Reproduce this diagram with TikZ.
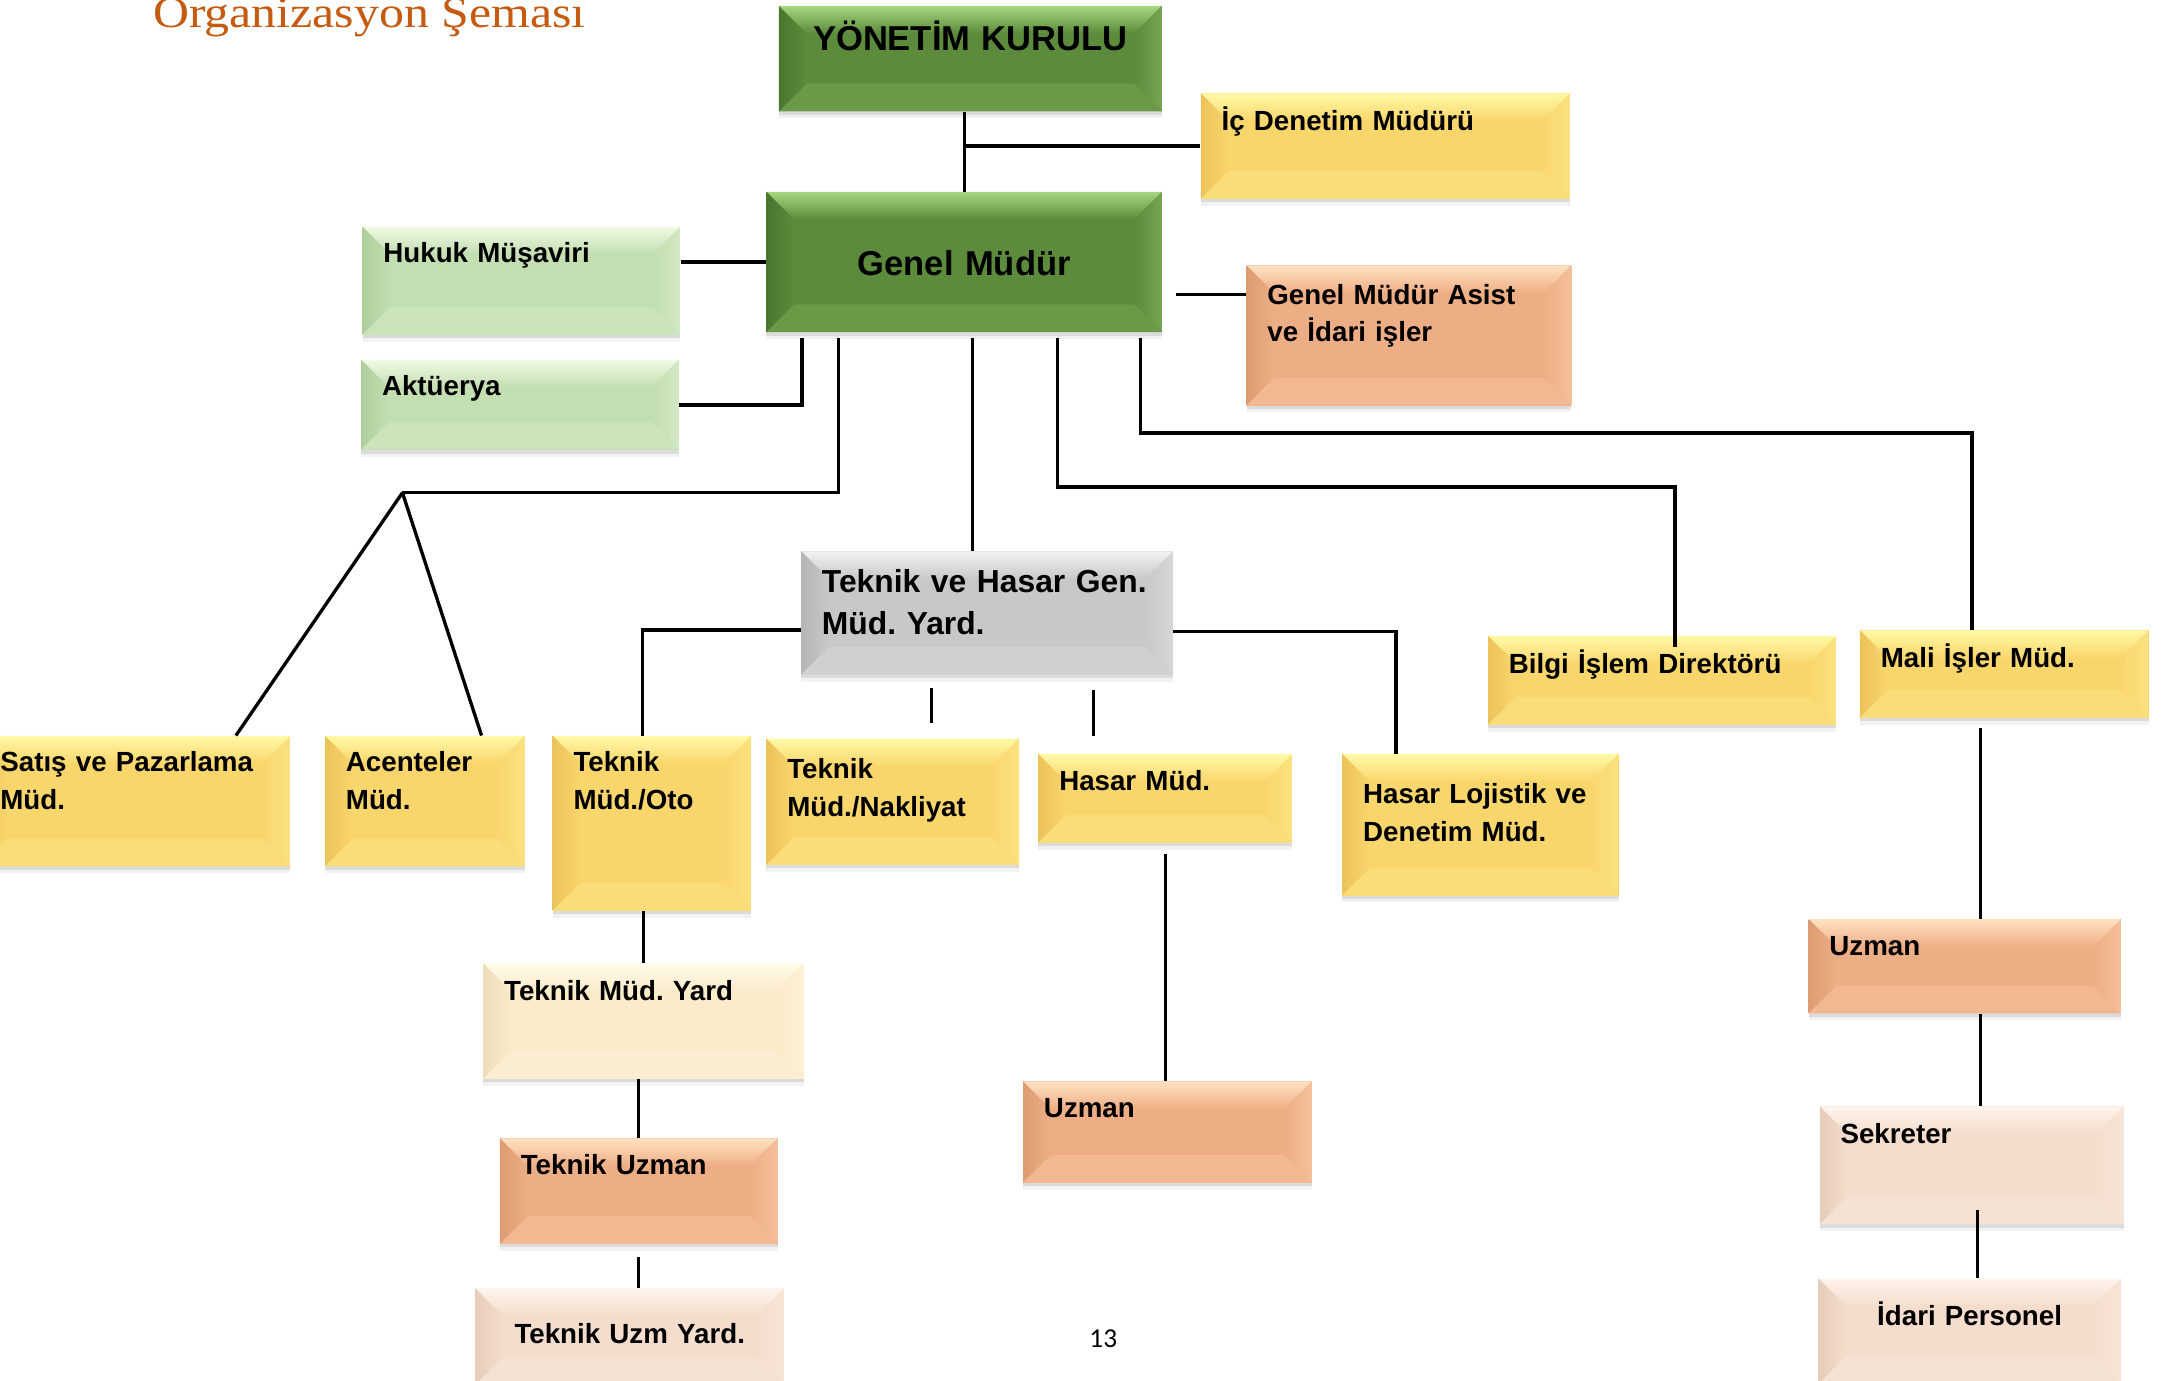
\documentclass[tikz,border=0pt]{standalone}
\usepackage{fontspec}
\setmainfont{Liberation Sans}
\newfontfamily\titlefont{Liberation Serif}
\newfontfamily\pagefont{Carlito}
\usetikzlibrary{shadows}
\frenchspacing

% box colours: base, highlight, shade
\definecolor{dkg}{HTML}{5B8B3B}
\definecolor{dkg-hi}{HTML}{A6D67E}
\definecolor{dkg-lo}{HTML}{4B7630}
\definecolor{ltg}{HTML}{C3DEB1}
\definecolor{ltg-hi}{HTML}{F0FBE6}
\definecolor{ltg-lo}{HTML}{B0CE9C}
\definecolor{yel}{HTML}{F9D66C}
\definecolor{yel-hi}{HTML}{FFF9A6}
\definecolor{yel-lo}{HTML}{EBC35A}
\definecolor{sal}{HTML}{EEAE85}
\definecolor{sal-hi}{HTML}{FFE2C2}
\definecolor{sal-lo}{HTML}{DD9C72}
\definecolor{gry}{HTML}{C8C8C8}
\definecolor{gry-hi}{HTML}{F2F2F2}
\definecolor{gry-lo}{HTML}{B5B5B5}
\definecolor{crm}{HTML}{FAEBC9}
\definecolor{crm-hi}{HTML}{FFFCEB}
\definecolor{crm-lo}{HTML}{EDDDBA}
\definecolor{pnk}{HTML}{F4DDCD}
\definecolor{pnk-hi}{HTML}{FFF4EC}
\definecolor{pnk-lo}{HTML}{E6CCBA}
\definecolor{titleorange}{HTML}{C55A11}

\tikzset{
  bevel/.style={fill=#1,
    drop shadow={shadow xshift=0pt, shadow yshift=-3.5pt, opacity=.1},
    drop shadow={shadow xshift=0pt, shadow yshift=-1.8pt, opacity=.2},
    path picture={
      \path (path picture bounding box.north west) coordinate (pa)
            (path picture bounding box.north east) coordinate (pb)
            (path picture bounding box.south east) coordinate (pc)
            (path picture bounding box.south west) coordinate (pd);
      \shade[top color=#1-hi, bottom color=#1] (pa) -- (pb) -- ([shift={(-.5cm,-.5cm)}]pb) -- ([shift={(.5cm,-.5cm)}]pa) -- cycle;
      \shade[left color=#1-lo, right color=#1] (pa) -- ([shift={(.5cm,-.5cm)}]pa) -- ([shift={(.5cm,.5cm)}]pd) -- (pd) -- cycle;
      \shade[right color=#1-hi!35!#1, left color=#1] (pb) -- ([shift={(-.5cm,-.5cm)}]pb) -- ([shift={(-.5cm,.5cm)}]pc) -- (pc) -- cycle;
      \fill[#1-hi!20!#1] (pd) -- ([shift={(.5cm,.5cm)}]pd) -- ([shift={(-.5cm,.5cm)}]pc) -- (pc) -- cycle;
    }},
  boxsize/.code n args={3}{%
    \pgfmathsetlengthmacro\boxtw{(#1-30)*0.025cm}%
    \pgfmathsetlengthmacro\boxth{#3*0.025cm}%
    \pgfmathsetlengthmacro\boxtd{(#2-#3)*0.025cm}%
    \tikzset{text width=\boxtw, text height=\boxth, text depth=\boxtd}},
  obox/.style n args={4}{rectangle, anchor=north west, inner xsep=0.375cm, inner ysep=0pt,
    bevel=#1, boxsize={#2}{#3}{#4}, align=left,
    font=\fontsize{14.2}{19.2}\selectfont\bfseries},
  bigtxt/.style={font=\fontsize{17.7}{21}\selectfont\bfseries},
  midtxt/.style={font=\fontsize{16.3}{21.3}\selectfont\bfseries},
  conn/.style={line width=1.7pt, black},
  gmline/.style={conn, shorten <=3pt}
}

\begin{document}
\begin{tikzpicture}[x=0.025cm, y=-0.025cm]
  \useasboundingbox (0,0) rectangle (1568,995);
  \fill[white] (0,0) rectangle (1568,995);

  \node[anchor=base west, inner sep=0pt, text=titleorange, transform shape, xscale=1.135,
        font=\titlefont\fontsize{22.5}{27}\selectfont] (title) at (110,20) {Organizasyon Şeması};

  % top level
  \node[obox={dkg}{276}{76}{32}, align=center, bigtxt] (yk) at (561,4) {YÖNETİM KURULU};
  \node[obox={yel}{266}{76}{27}] (icd) at (865,67) {İç Denetim Müdürü};
  \node[obox={dkg}{285}{101}{60}, align=center, bigtxt] (gm) at (552,138) {Genel Müdür};
  \node[obox={ltg}{229}{78}{26}] (hk) at (261,163) {Hukuk Müşaviri};
  \node[obox={ltg}{229}{65}{26}] (ak) at (260,259) {Aktüerya};
  \node[obox={sal}{234}{101}{28}] (gma) at (898,191) {Genel Müdür Asist\\ve İdari işler};

  % second level
  \node[obox={gry}{268}{89}{30}, midtxt] (thy) at (577,397) {Teknik ve Hasar Gen.\\Müd. Yard.};
  \node[obox={yel}{224}{94}{26}] (sp) at (-15,530) {Satış ve Pazarlama\\Müd.};
  \node[obox={yel}{144}{94}{26}] (ac) at (234,530) {Acenteler\\Müd.};
  \node[obox={yel}{143}{126}{26}] (to) at (398,530) {Teknik\\Müd./Oto};
  \node[obox={yel}{182}{91}{29}] (tn) at (552,532) {Teknik\\Müd./Nakliyat};
  \node[obox={yel}{183}{64}{26}] (hm) at (748,543) {Hasar Müd.};
  \node[obox={yel}{199}{102}{36}] (hl) at (967,543) {Hasar Lojistik ve\\Denetim Müd.};
  \node[obox={yel}{251}{64}{27}] (bi) at (1072,458) {Bilgi İşlem Direktörü};
  \node[obox={yel}{208}{63}{27}] (mi) at (1340,454) {Mali İşler Müd.};

  % lower levels
  \node[obox={crm}{231}{83}{27}] (tmy) at (348,694) {Teknik Müd. Yard};
  \node[obox={sal}{200}{76}{26}] (tu) at (360,820) {Teknik Uzman};
  \node[obox={pnk}{223}{70}{40}, align=center] (tuy) at (342,928) {Teknik Uzm Yard.};
  \node[obox={sal}{208}{73}{26}] (uz1) at (737,779) {Uzman};
  \node[obox={sal}{225}{68}{26}] (uz2) at (1303,662) {Uzman};
  \node[obox={pnk}{219}{85}{27}] (sk) at (1311,797) {Sekreter};
  \node[obox={pnk}{218}{76}{34}, align=center] (ip) at (1310,921) {İdari Personel};

  \node[anchor=base, inner sep=0pt, font=\pagefont\fontsize{14}{16}\selectfont] (pg) at (795,971) {13};

  % connectors
  \draw[conn] (yk.south -| gm.north) -- (gm.north);
  \draw[conn] (icd.west) -- (icd.west -| gm.north);
  \draw[conn] (gm.west) -- (gm.west -| hk.east);
  \draw[conn, shorten >=3pt] (ak.east) -| (578,0 |- gm.south);
  \coordinate (fork) at (290,355);
  \draw[gmline] (604,0 |- gm.south) |- (fork);
  \draw[conn] (fork) -- (170,0 |- sp.north);
  \draw[conn] (fork) -- (347,0 |- ac.north);
  \draw[conn, shorten >=7pt] (gma.west |- 0,212) -- (gm.east |- 0,212);
  \draw[gmline] (701,0 |- gm.south) -- (701,0 |- thy.north);
  \draw[gmline, shorten >=-6pt] (762,0 |- gm.south) -- (762,351) -| (1207,0 |- bi.north);
  \draw[gmline] (822,0 |- gm.south) -- (822,312) -| (1421,0 |- mi.north);
  \draw[conn] (thy.west |- 0,454) -| (463,0 |- to.north);
  \draw[conn] (thy.east |- 0,455) -| (1006,0 |- hl.north);
  \draw[conn, shorten <=6.4pt, shorten >=7.8pt] (671,0 |- thy.south) -- (671,0 |- tn.north);
  \draw[conn, shorten <=7.8pt, shorten >=9.2pt] (788,0 |- thy.south) -- (788,0 |- hm.north);
  \draw[conn] (tmy.north) -- (tmy.north |- to.south);
  \draw[conn] (tu.north) -- (tu.north |- tmy.south);
  \draw[conn, shorten <=6.4pt] (tu.south) -- (tu.south |- tuy.north);
  \draw[conn, shorten <=5.7pt] (hm.south) -- (hm.south |- uz1.north);
  \draw[conn, shorten <=5pt] (1427,0 |- mi.south) -- (1427,0 |- uz2.north);
  \draw[conn] (1427,0 |- uz2.south) -- (1427,0 |- sk.north);
  \draw[conn, shorten <=-7.8pt] (1425,0 |- sk.south) -- (1425,0 |- ip.north);
\end{tikzpicture}
\end{document}
